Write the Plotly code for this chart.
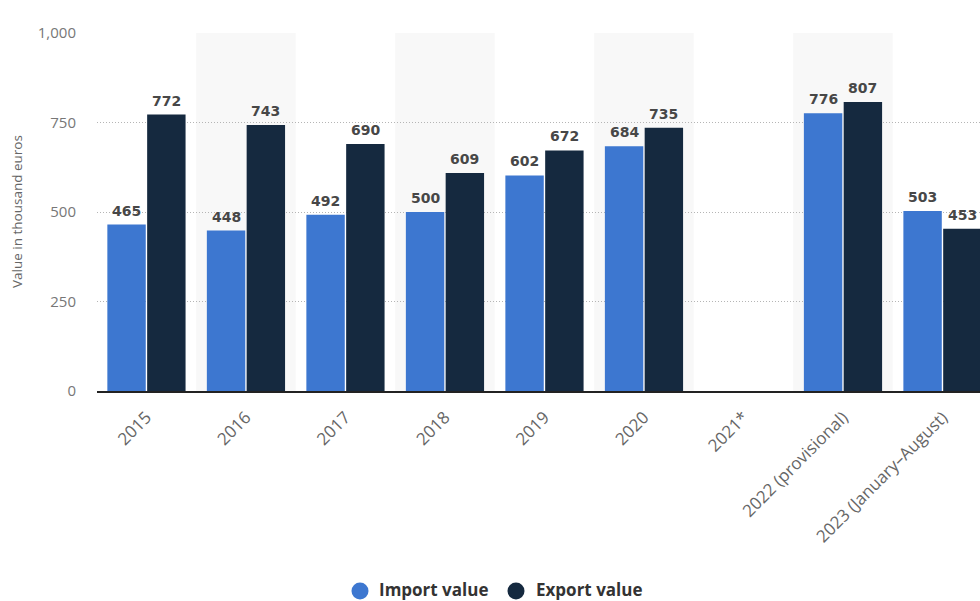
import plotly.graph_objects as go

categories = ["2015", "2016", "2017", "2018", "2019", "2020", "2021*",
              "2022 (provisional)", "2023 (January–August)"]
import_values = [465, 448, 492, 500, 602, 684, None, 776, 503]
export_values = [772, 743, 690, 609, 672, 735, None, 807, 453]
y_ticks = [0, 250, 500, 750, 1000]
y_tick_labels = ["0", "250", "500", "750", "1,000"]
series_names = ["Import value", "Export value"]

IMPORT_COLOR = "#3d77d0"
EXPORT_COLOR = "#15293f"
FONT = "Open Sans, Lato, sans-serif"
LABEL_FONT = "DejaVu Sans, sans-serif"

BAR_GAP = 0.2
GROUP_GAP = 0.035

# plot area geometry in pixels (used to place the key below the axis)
PLOT_LEFT, PLOT_WIDTH = 97, 883
PLOT_BOTTOM, PLOT_HEIGHT = 391, 358


def px_x(px):
    return (px - PLOT_LEFT) / PLOT_WIDTH


def px_y(py):
    return (PLOT_BOTTOM - py) / PLOT_HEIGHT


fig = go.Figure()

fig.add_bar(
    x=categories, y=import_values, name=series_names[0],
    marker=dict(color=IMPORT_COLOR, line=dict(width=0)),
    showlegend=False,
)
fig.add_bar(
    x=categories, y=export_values, name=series_names[1],
    marker=dict(color=EXPORT_COLOR, line=dict(width=0)),
    showlegend=False,
)

# value labels above each bar, centred on the bar's slot in its group
slot = (1 - BAR_GAP) / 2
annotations = []
for series, side in [(import_values, -1), (export_values, 1)]:
    for i, v in enumerate(series):
        if v is None:
            continue
        annotations.append(dict(
            x=i + side * slot / 2, y=v, xref="x", yref="y",
            text=f"<b>{v}</b>", showarrow=False,
            xanchor="center", yanchor="bottom", yshift=4,
            font=dict(family=LABEL_FONT, size=14, color="#474747"),
        ))

# y-axis title
annotations.append(dict(
    x=px_x(17), y=0.5, xref="paper", yref="paper",
    text="Value in thousand euros", showarrow=False, textangle=-90,
    xanchor="center", yanchor="middle",
    font=dict(family=FONT, size=13.5, color="#666666"),
))

# light bands behind every other category
shapes = []
for i in range(1, len(categories), 2):
    shapes.append(dict(
        type="rect", xref="x", yref="paper", x0=i - 0.5, x1=i + 0.5,
        y0=0, y1=1, fillcolor="#f8f8f8", line=dict(width=0), layer="below",
    ))

# key: round swatch followed by bold series name
key_y = px_y(589)
for name, color, cx, tx in [(series_names[0], IMPORT_COLOR, 360, 378),
                            (series_names[1], EXPORT_COLOR, 516, 535)]:
    shapes.append(dict(
        type="circle", xref="paper", yref="paper",
        xsizemode="pixel", ysizemode="pixel",
        xanchor=px_x(cx), yanchor=px_y(591),
        x0=-8.5, x1=8.5, y0=-8.5, y1=8.5,
        fillcolor=color, line=dict(width=0),
    ))
    annotations.append(dict(
        x=px_x(tx), y=key_y, xref="paper", yref="paper",
        text=f"<b>{name}</b>", showarrow=False,
        xanchor="left", yanchor="middle", borderpad=0,
        font=dict(family=FONT, size=17, color="#333333"),
    ))

fig.update_layout(
    width=980, height=601,
    margin=dict(l=PLOT_LEFT, r=980 - PLOT_LEFT - PLOT_WIDTH, t=33, b=601 - PLOT_BOTTOM),
    paper_bgcolor="white", plot_bgcolor="white",
    barmode="group", bargap=BAR_GAP, bargroupgap=GROUP_GAP,
    shapes=shapes, annotations=annotations, showlegend=False,
    font=dict(family=FONT, color="#666666"),
    xaxis=dict(
        type="category", categoryorder="array", categoryarray=categories,
        range=[-0.497, 8.377], tickangle=-45,
        tickfont=dict(family=FONT, size=17, color="#666666"),
        showline=True, linecolor="#222222", linewidth=1.5,
        showgrid=False, ticks="", fixedrange=True, ticklabelstandoff=8,
    ),
    yaxis=dict(
        range=[0, 1000], tickvals=y_ticks, ticktext=y_tick_labels,
        tickfont=dict(family=FONT, size=15, color="#777777"),
        showgrid=True, gridcolor="#b5b5b5", griddash="1px,2px", gridwidth=1,
        zeroline=False, ticklabelstandoff=20,
    ),
)

fig.write_html("out.html")
